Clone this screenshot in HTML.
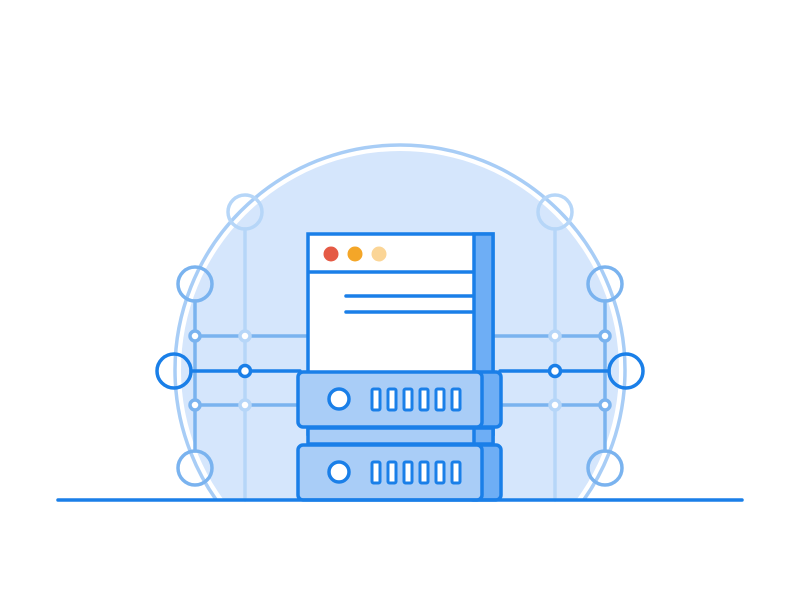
<!DOCTYPE html>
<html><head><style>html,body{margin:0;padding:0;background:#fff}svg{display:block}</style></head>
<body>
<svg width="800" height="600" viewBox="0 0 800 600" xmlns="http://www.w3.org/2000/svg">
<defs><clipPath id="c"><rect x="0" y="0" width="800" height="500"/></clipPath></defs>
<g clip-path="url(#c)">
<circle cx="400" cy="370" r="219" fill="#d5e6fc"/>
<circle cx="400" cy="370" r="225" fill="none" stroke="#a8cdf6" stroke-width="3.5"/>
</g>
<g fill="none" stroke-linecap="round">
<line x1="245" y1="229" x2="245" y2="500" stroke="#b6d6f8" stroke-width="3.5"/>
<line x1="555" y1="229" x2="555" y2="500" stroke="#b6d6f8" stroke-width="3.5"/>
<line x1="195" y1="301" x2="195" y2="451" stroke="#7ab3ef" stroke-width="3.5"/>
<line x1="605" y1="301" x2="605" y2="451" stroke="#7ab3ef" stroke-width="3.5"/>
<line x1="195" y1="336" x2="310" y2="336" stroke="#7ab3ef" stroke-width="3.5"/>
<line x1="195" y1="405" x2="300" y2="405" stroke="#7ab3ef" stroke-width="3.5"/>
<line x1="490" y1="336" x2="605" y2="336" stroke="#7ab3ef" stroke-width="3.5"/>
<line x1="500" y1="405" x2="605" y2="405" stroke="#7ab3ef" stroke-width="3.5"/>
<line x1="191" y1="371" x2="300" y2="371" stroke="#1a7fe8" stroke-width="3.5"/>
<line x1="500" y1="371" x2="609" y2="371" stroke="#1a7fe8" stroke-width="3.5"/>
<circle cx="245" cy="212" r="17" stroke="#b6d6f8" stroke-width="3.5"/>
<circle cx="555" cy="212" r="17" stroke="#b6d6f8" stroke-width="3.5"/>
<circle cx="195" cy="284" r="17" stroke="#7ab3ef" stroke-width="3.5"/>
<circle cx="605" cy="284" r="17" stroke="#7ab3ef" stroke-width="3.5"/>
<circle cx="195" cy="468" r="17" stroke="#7ab3ef" stroke-width="3.5"/>
<circle cx="605" cy="468" r="17" stroke="#7ab3ef" stroke-width="3.5"/>
<circle cx="174" cy="371" r="17" stroke="#1a7fe8" stroke-width="3.5"/>
<circle cx="626" cy="371" r="17" stroke="#1a7fe8" stroke-width="3.5"/>
</g>
<g stroke-width="3.5">
<circle cx="195" cy="336" r="5" fill="#fff" stroke="#7ab3ef"/>
<circle cx="605" cy="336" r="5" fill="#fff" stroke="#7ab3ef"/>
<circle cx="195" cy="405" r="5" fill="#fff" stroke="#7ab3ef"/>
<circle cx="605" cy="405" r="5" fill="#fff" stroke="#7ab3ef"/>
<circle cx="245" cy="336" r="5" fill="#fff" stroke="#b6d6f8"/>
<circle cx="555" cy="336" r="5" fill="#fff" stroke="#b6d6f8"/>
<circle cx="245" cy="405" r="5" fill="#fff" stroke="#b6d6f8"/>
<circle cx="555" cy="405" r="5" fill="#fff" stroke="#b6d6f8"/>
<circle cx="245" cy="371" r="5.5" fill="#fff" stroke="#1a7fe8"/>
<circle cx="555" cy="371" r="5.5" fill="#fff" stroke="#1a7fe8"/>
</g>
<rect x="308" y="234" width="185" height="200" fill="#fff" stroke="#1a7fe8" stroke-width="3.5"/>
<rect x="474" y="234" width="19" height="200" fill="#6eaef5" stroke="#1a7fe8" stroke-width="3.5"/>
<line x1="308" y1="272" x2="474" y2="272" stroke="#1a7fe8" stroke-width="3.5"/>
<circle cx="331" cy="254" r="7.5" fill="#e55a45"/>
<circle cx="355" cy="254" r="7.5" fill="#f4a628"/>
<circle cx="379" cy="254" r="7.5" fill="#fbd596"/>
<line x1="346" y1="296" x2="472" y2="296" stroke="#1a7fe8" stroke-width="3.5" stroke-linecap="round"/>
<line x1="346" y1="312" x2="472" y2="312" stroke="#1a7fe8" stroke-width="3.5" stroke-linecap="round"/>
<rect x="308" y="428" width="185" height="16" fill="#a9cdf7" stroke="#1a7fe8" stroke-width="3.5"/>
<rect x="474" y="428" width="19" height="16" fill="#6eaef5" stroke="#1a7fe8" stroke-width="3.5"/>
<g stroke="#1a7fe8" stroke-width="3.5">
<rect x="468" y="372" width="33" height="55" rx="5" fill="#6eaef5"/>
<rect x="298" y="372" width="184" height="55" rx="5" fill="#a9cdf7"/>
<rect x="468" y="445" width="33" height="55" rx="5" fill="#6eaef5"/>
<rect x="298" y="445" width="184" height="55" rx="5" fill="#a9cdf7"/>
<circle cx="339" cy="399" r="10" fill="#fff"/>
<circle cx="339" cy="472" r="10" fill="#fff"/>
</g>
<g fill="#fff" stroke="#1a7fe8" stroke-width="3">
<rect x="372" y="389" width="8" height="21" rx="1.5"/><rect x="388" y="389" width="8" height="21" rx="1.5"/><rect x="404" y="389" width="8" height="21" rx="1.5"/><rect x="420" y="389" width="8" height="21" rx="1.5"/><rect x="436" y="389" width="8" height="21" rx="1.5"/><rect x="452" y="389" width="8" height="21" rx="1.5"/>
<rect x="372" y="462" width="8" height="21" rx="1.5"/><rect x="388" y="462" width="8" height="21" rx="1.5"/><rect x="404" y="462" width="8" height="21" rx="1.5"/><rect x="420" y="462" width="8" height="21" rx="1.5"/><rect x="436" y="462" width="8" height="21" rx="1.5"/><rect x="452" y="462" width="8" height="21" rx="1.5"/>
</g>
<line x1="58" y1="500" x2="742" y2="500" stroke="#1a7fe8" stroke-width="3.5" stroke-linecap="round"/>
</svg>
</body></html>
